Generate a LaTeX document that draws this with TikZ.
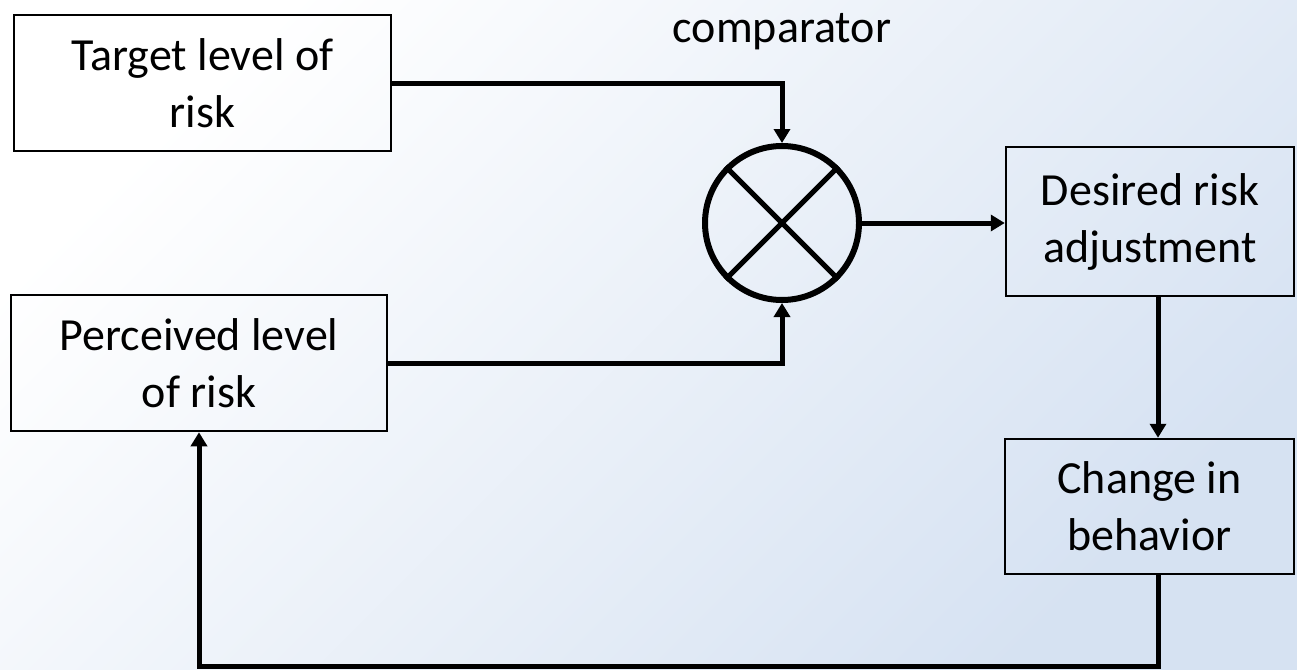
\documentclass[tikz,border=0pt]{standalone}
\usepackage{fontspec}
\setmainfont{Carlito}
\usetikzlibrary{arrows.meta,calc}
\definecolor{bgend}{RGB}{214,226,242}
\tikzset{
  box/.style={draw=black, line width=2.5pt, rectangle, align=center, inner sep=0pt,
    font=\fontsize{46}{57}\selectfont},
  conn/.style={draw=black, line width=5pt},
  arr/.style={conn, -{Triangle[width=16pt,length=14pt]}},
}
\begin{document}
\begin{tikzpicture}[x=1pt,y=-1pt]
\useasboundingbox (0,0) rectangle (1297,669);
\shade[top color=white, bottom color=bgend, shading angle=45] (0,0) rectangle (1297,669);

\node[box, minimum width=377pt, minimum height=136pt] (target) at (202.5,83) {Target level of\\risk};
\node[box, minimum width=376pt, minimum height=136pt] (perceived) at (199,363) {Perceived level\\of risk};
\node[box, minimum width=288pt, minimum height=149pt] (desired) at (1150,221.5) {Desired risk\\adjustment};
\node[box, minimum width=289pt, minimum height=135pt] (change) at (1149.5,506.5) {Change in\\behavior};
\node[draw=black, line width=6pt, circle, minimum size=154pt, inner sep=0pt] (comp) at (782,223) {};
\node[font=\fontsize{46}{57}\selectfont, anchor=base] (complabel) at (782,42) {comparator};

\draw[line width=5pt] (comp.45) -- (comp.225);
\draw[line width=5pt] (comp.135) -- (comp.315);

\coordinate (vx) at (1158,0);
\coordinate (fb) at (0,666);

\draw[arr] (target.east) -| (comp.north);
\draw[arr] (perceived.east) -| (comp.south);
\draw[arr] (comp.east) -- (comp.east -| desired.west);
\draw[arr] (desired.south -| vx) -- (change.north -| vx);
\draw[arr] (change.south -| vx) -- (vx |- fb) -| (perceived.south);
\end{tikzpicture}
\end{document}
